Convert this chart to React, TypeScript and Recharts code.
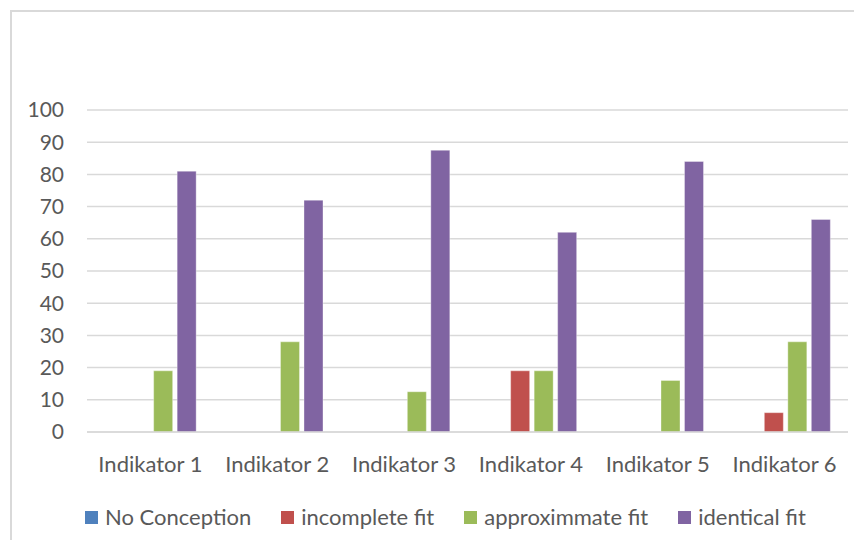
import React from "react";
import { BarChart, Bar, XAxis, YAxis, CartesianGrid } from "recharts";

const categories = ["Indikator 1", "Indikator 2", "Indikator 3", "Indikator 4", "Indikator 5", "Indikator 6"];
const noConception = [0, 0, 0, 0, 0, 0];
const incompleteFit = [0, 0, 0, 19, 0, 6];
const approximmateFit = [19, 28, 12.5, 19, 16, 28];
const identicalFit = [81, 72, 87.5, 62, 84, 66];
const yTicks = [0, 10, 20, 30, 40, 50, 60, 70, 80, 90, 100];

const seriesDefs = [
  { key: "noConception", name: "No Conception", color: "#4f81bd" },
  { key: "incompleteFit", name: "incomplete fit", color: "#c0504d" },
  { key: "approximmateFit", name: "approximmate fit", color: "#9bbb59" },
  { key: "identicalFit", name: "identical fit", color: "#8064a2" },
];

const data = categories.map((c, i) => ({
  name: c,
  noConception: noConception[i],
  incompleteFit: incompleteFit[i],
  approximmateFit: approximmateFit[i],
  identicalFit: identicalFit[i],
}));

const FONT = "Lato, 'Open Sans', sans-serif";
const TEXT = "#595959";

const LegendBox = () => (
  <div
    style={{
      position: "absolute",
      left: 85,
      top: 505,
      display: "flex",
      alignItems: "center",
      fontFamily: FONT,
      fontSize: 22,
      color: TEXT,
      whiteSpace: "nowrap",
    }}
  >
    {seriesDefs.map((s, i) => (
      <div key={s.key} style={{ display: "flex", alignItems: "center", marginRight: i < seriesDefs.length - 1 ? 30 : 0 }}>
        <div style={{ width: 13, height: 13, background: s.color, marginRight: 7 }} />
        <span style={{ lineHeight: "24px" }}>{s.name}</span>
      </div>
    ))}
  </div>
);

export default function App() {
  return (
    <div style={{ position: "relative", width: 862, height: 548, margin: -8, overflow: "hidden", background: "#fff" }}>
      <div
        style={{
          position: "absolute",
          left: 10,
          top: 10,
          width: 900,
          height: 600,
          borderTop: "2px solid #d9d9d9",
          borderLeft: "2px solid #d9d9d9",
          boxSizing: "border-box",
        }}
      />
      <div style={{ position: "absolute", left: 0, top: 0 }}>
        <BarChart
          width={862}
          height={548}
          data={data}
          margin={{ top: 110, right: 14, left: 0, bottom: 66 }}
          barCategoryGap="15.5%"
          barGap={4.5}
        >
          <CartesianGrid horizontal vertical={false} stroke="#d9d9d9" strokeWidth={1.5} />
          <XAxis
            dataKey="name"
            axisLine={{ stroke: "#d9d9d9", strokeWidth: 1.5 }}
            tickLine={false}
            tickSize={0}
            tickMargin={24}
            height={50}
            tick={{ fill: TEXT, fontSize: 22, fontFamily: FONT }}
            interval={0}
          />
          <YAxis
            domain={[0, 100]}
            ticks={yTicks}
            width={87}
            axisLine={false}
            tickLine={false}
            tickSize={0}
            tickMargin={23}
            tick={{ fill: TEXT, fontSize: 21, fontFamily: FONT }}
            interval={0}
          />
          {seriesDefs.map((s) => (
            <Bar
              key={s.key}
              dataKey={s.key}
              name={s.name}
              fill={s.color}
              stroke="#ffffff"
              strokeOpacity={0.35}
              strokeWidth={1}
              isAnimationActive={false}
            />
          ))}
        </BarChart>
      </div>
      <LegendBox />
    </div>
  );
}
